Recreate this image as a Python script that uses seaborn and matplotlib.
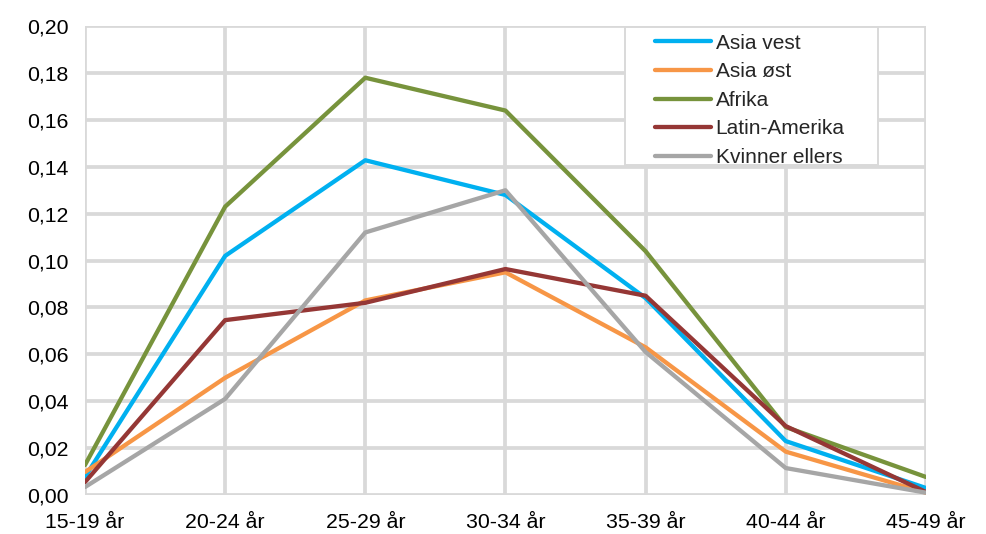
import matplotlib
matplotlib.use("Agg")
import matplotlib.pyplot as plt
from matplotlib.patches import Rectangle
from matplotlib.ticker import FuncFormatter
import numpy as np
import pandas as pd
import seaborn as sns

# Age groups and fertility rates per region
age_groups = ["15-19 år", "20-24 år", "25-29 år", "30-34 år", "35-39 år", "40-44 år", "45-49 år"]
asia_vest = [0.0077, 0.102, 0.1428, 0.128, 0.084, 0.023, 0.003]
asia_ost = [0.0098, 0.050, 0.083, 0.095, 0.063, 0.0185, 0.001]
afrika = [0.0128, 0.123, 0.178, 0.164, 0.104, 0.029, 0.0077]
latin_amerika = [0.0055, 0.0746, 0.082, 0.0964, 0.085, 0.0294, 0.0013]
kvinner_ellers = [0.0034, 0.041, 0.112, 0.130, 0.061, 0.0115, 0.001]

series_names = ["Asia vest", "Asia øst", "Afrika", "Latin-Amerika", "Kvinner ellers"]
series_values = [asia_vest, asia_ost, afrika, latin_amerika, kvinner_ellers]
colors = ["#00b0f0", "#f79646", "#77933c", "#953735", "#a6a6a6"]

df = pd.DataFrame(
    [(name, i, v) for name, vals in zip(series_names, series_values)
     for i, v in enumerate(vals)],
    columns=["gruppe", "alder", "rate"],
)

sns.set_style("white")
plt.rcParams["font.family"] = ["Liberation Sans", "DejaVu Sans"]

fig = plt.figure(figsize=(9.87, 5.34), dpi=100)
ax = fig.add_axes([0.0861, 0.073, 0.852, 0.878])

grid_color = "#d9d9d9"
line_w = 3.1
sns.lineplot(data=df, x="alder", y="rate", hue="gruppe", hue_order=series_names,
             palette=colors, linewidth=line_w, ax=ax, legend=False, zorder=3)

ax.set_xlim(0, len(age_groups) - 1)
ax.set_ylim(0, 0.20)
ax.set_xticks(range(len(age_groups)))
ax.set_xticklabels(age_groups)
ax.set_yticks(np.arange(0, 0.2001, 0.02))
ax.yaxis.set_major_formatter(FuncFormatter(lambda v, p: f"{v:.2f}".replace(".", ",")))
ax.set_xlabel("")
ax.set_ylabel("")
ax.grid(True, color=grid_color, linewidth=2.7)
ax.set_axisbelow(True)
for s in ax.spines.values():
    s.set_visible(False)
ax.tick_params(axis="both", length=0, labelsize=15.3, colors="#000000")
ax.tick_params(axis="y", pad=12)
ax.tick_params(axis="x", pad=13)

# Legend box with its own frame
ax.add_patch(Rectangle((0.642, 0.704), 0.301, 0.294, transform=ax.transAxes,
                       facecolor="white", edgecolor=grid_color, linewidth=1.4,
                       zorder=4, clip_on=False))
handles = [plt.Line2D([], [], color=c, linewidth=line_w) for c in colors]
leg = ax.legend(handles, series_names, loc="upper left",
                bbox_to_anchor=(0.678, 0.984), frameon=False, fontsize=15,
                handlelength=2.7, handletextpad=0.2, labelspacing=0.46,
                borderpad=0, borderaxespad=0)
leg.set_zorder(5)

fig.savefig("out.png", dpi=100)
